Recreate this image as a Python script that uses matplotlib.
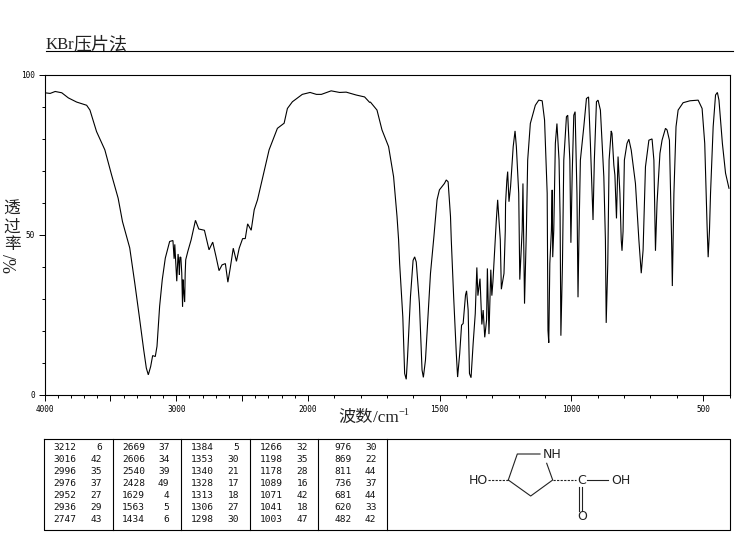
import matplotlib
matplotlib.use("Agg")
import matplotlib.pyplot as plt
import numpy as np
from matplotlib.ticker import FixedLocator, NullFormatter

# ---- spectrum, by region ----
wn_oh = [4000,3957,3919,3869,3819,3756,3680,3655,3605,3542,3491,3441,3408,3353,3315,3282,3247,3227,3212,3194,3179,3159,3146,3126,3106,3083,3050,3025]
t_oh = [94.3,94.1,94.7,94.3,92.7,91.4,90.4,88.9,82.2,76.5,68.7,61.4,54.1,45.9,35,25,14.1,8.4,6.3,8.9,12.3,12,15.2,27.7,36,42.7,47.9,48.2]
wn_ch = [3016,3011,2996,2986,2980,2976,2972,2965,2958,2952,2948,2944,2936,2932,2928,2912,2887,2854,2829,2786,2751,2723,2698,2675,2652,2627,2608,2590,2567,2543,2522,2496,2476,2458,2431,2408,2383,2345,2295,2232,2181,2156,2118,2043,1992,1968,1949,1912,1880,1855,1817,1785,1766]
t_ch = [42.5,47,35.5,44,41,37.5,43,43,38,27.5,36,33,29,38,42.2,44.8,48.4,54.5,51.8,51.4,45.3,47.7,43.2,38.8,40.6,41,35.2,39.6,45.8,41.7,45.8,48.8,48.8,53.4,51.4,57.8,60.9,67.6,76.5,83.2,84.8,89.4,91.5,93.8,94.4,93.8,93.8,94.9,94.4,94.5,93.6,93,91.3]
wn_amide = [1763,1738,1719,1694,1675,1662,1656,1652,1640,1633,1627,1622,1611,1601,1595,1589,1577,1567,1562,1554,1535,1522,1510,1501,1482,1475,1468,1459,1456,1447,1437,1432,1424,1417,1411,1402,1398,1392,1387,1381,1373,1365,1359,1355,1347,1340,1335,1329,1322,1319,1313,1309,1306,1302,1298]
t_amide = [91.4,88.9,82.7,77.5,68.1,55.7,48.4,41,24.4,6.7,4.9,11.9,30.6,42,43.1,41.5,28.6,7.8,5.5,10.9,37.9,49.4,60.9,64,66,67.1,66.5,55.7,48.3,30.6,13,5.6,13,21.8,22.3,31.2,32.5,26.5,6.7,5.4,16.1,25.4,39.8,31,36.3,22,26.5,18,23.4,39.5,19,30,39.1,31,35.3]
wn_fp1 = [1285,1280,1275,1270,1266,1256,1251,1250,1245,1242,1237,1231,1221,1214,1209,1200,1196,1187,1184,1181,1178,1171,1166,1156,1137,1124,1111,1102,1092,1089,1086,1082,1076,1073,1071,1067,1061,1055,1047,1043,1040,1034,1029,1019,1014,1006,1002,997,991,986,979,975,971,966]
t_fp1 = [54.6,60.9,54.6,48.4,33,37.9,51.4,59.8,67.1,69.7,60.3,65,77.5,82.4,77.5,62.9,36,51.4,66,48.4,28.5,51.4,73.3,84.7,90.4,92,91.8,85.8,62.9,20.2,16.3,41,51.4,64,43,51.4,78.5,84.7,73.3,55.7,18.5,41,73.3,86.8,87.3,73.3,47.5,69.2,87.3,88.4,62.9,30.5,51.4,73.3]
wn_fp2 = [953,943,935,928,918,913,905,899,890,877,871,868,862,857,849,846,839,835,829,823,816,811,808,804,799,789,782,773,757,744,735,728,719,706,694,687,681,675,664,656,643,637,628,620,617,611,603,595,576,550,519,504,494,485,481,476,472,462,453,446,440,427,415,402]
t_fp2 = [83.7,92.5,93,78.5,54.6,73.3,91.5,92,88.9,68.1,48.4,22.5,41,73.3,82.4,81.6,71.7,68.6,55.1,74.4,62.9,48.4,45,51,73.3,78.5,79.8,76.4,66,48.4,38,45.2,71.2,79.5,79.9,73.3,45,60,75.4,79.5,83.2,82.7,79.5,49.4,34,62.9,83.7,88.9,91.2,91.8,92,89.4,78.5,52.5,43,51.4,62.9,83.7,93.6,94.4,92,78.5,69.2,64.5]

# ---- peak table ----
peak_wn = [[3212,3016,2996,2976,2952,2936,2747],[2669,2606,2540,2428,1629,1563,1434],[1384,1353,1340,1328,1313,1306,1298],[1266,1198,1178,1089,1071,1041,1003],[976,869,811,736,681,620,482]]
peak_t = [[6,42,35,37,27,29,43],[37,34,39,49,4,5,6],[5,30,21,17,18,27,30],[32,35,28,16,42,18,47],[30,22,44,37,44,33,42]]
x_major = [4000,3000,2000,1500,1000,500]
x_mid = [3500,2500]
x_minor = [w for w in range(4000,399,-100) if w not in x_major and w not in x_mid]
y_major = [0,50,100]
y_minor = [10,20,30,40,60,70,80,90]

W, H = 737, 539
fig = plt.figure(figsize=(W/100, H/100), dpi=100)

# wavenumber axis: 2000 cm-1 and below is drawn at twice the scale of the range above
def fwd(w):
    w = np.asarray(w, float)
    return -np.where(w >= 2000, (4000-w)/2, 1000+(2000-w))
def inv(v):
    u = -np.asarray(v, float)
    return np.where(u <= 1000, 4000-2*u, 3000-u)

L, R, T, B = 44.5, 729.5, 74.5, 395.0
ax = fig.add_axes([L/W, 1-B/H, (R-L)/W, (B-T)/H])
ax.set_xscale('function', functions=(fwd, inv))
ax.plot(wn_oh+wn_ch+wn_amide+wn_fp1+wn_fp2, t_oh+t_ch+t_amide+t_fp1+t_fp2, color='black', lw=0.8, solid_joinstyle='miter')
ax.set_xlim(4000, 400)
ax.set_ylim(0, 100)
for s in ax.spines.values():
    s.set_linewidth(0.8)
ax.xaxis.set_major_locator(FixedLocator(x_major+x_mid))
ax.xaxis.set_minor_locator(FixedLocator(x_minor))
ax.set_xticklabels([str(v) for v in x_major]+['',''])
ax.xaxis.set_minor_formatter(NullFormatter())
ax.yaxis.set_major_locator(FixedLocator(y_major))
ax.yaxis.set_minor_locator(FixedLocator(y_minor))
ax.tick_params(axis='both', which='major', length=4, width=0.7, labelsize=5.6, pad=3)
ax.tick_params(axis='both', which='minor', length=2, width=0.7)
for lb in ax.get_xticklabels()+ax.get_yticklabels():
    lb.set_family('DejaVu Sans Mono')

# page overlay in pixel coordinates
pg = fig.add_axes([0, 0, 1, 1], facecolor='none')
pg.set_xlim(0, W); pg.set_ylim(H, 0); pg.axis('off')

cjk = ['Noto Sans CJK SC', 'DejaVu Sans']
pg.text(46, 49, 'KBr', family='Liberation Serif', fontsize=12, va='baseline', color='#222222')
pg.text(73, 49, '压片法', family=cjk, fontsize=13, va='baseline', color='#222222')
pg.plot([46, 733], [50.5, 50.5], color='black', lw=0.8)

for ch, y in zip('透过率', (209, 227, 245)):
    pg.text(12, y, ch, family=cjk, fontsize=12, ha='center', va='center', color='#222222')
pg.text(12, 263, '%/', family='Liberation Serif', fontsize=13, rotation=90, ha='center', va='center', color='#222222')

pg.text(338, 422, '波数', family=cjk, fontsize=12.4, va='baseline', color='#222222')
pg.text(373, 422, '/cm', family='Liberation Serif', fontsize=12.4, va='baseline', color='#222222')
pg.text(399, 415, '−1', family='Liberation Serif', fontsize=7.5, va='baseline', color='#222222')

# table frame
pg.plot([44.5, 730, 730, 44.5, 44.5], [438.5, 438.5, 530, 530, 438.5], color='black', lw=0.8)
for x in (113, 181.5, 250.5, 318.5, 387.5):
    pg.plot([x, x], [438.5, 530], color='black', lw=0.8)
rows = (447, 459.2, 471.3, 483.5, 495.7, 507.8, 520)
col_pos = ((76.7, 102), (145, 169.5), (214, 239), (283, 308), (352, 376.5))
for (xw, xt), ws, ts in zip(col_pos, peak_wn, peak_t):
    for y, a, b in zip(rows, ws, ts):
        pg.text(xw, y, str(a), family='DejaVu Sans Mono', fontsize=6.8, ha='right', va='center', color='#111111')
        pg.text(xt, y, str(b), family='DejaVu Sans Mono', fontsize=6.8, ha='right', va='center', color='#111111')

# structure
bond = dict(color='#222222', lw=0.8)
dash = dict(color='#222222', lw=0.8, ls=(0, (2, 1.2)))
pg.plot([488.3, 508.3], [480, 480], **dash)
pg.plot([508.3, 517.3, 540], [480, 454, 454], **bond)
pg.plot([546.7, 552.7, 530.7, 508.3], [463.3, 480, 496, 480], **bond)
pg.plot([552.7, 576], [480, 480], **dash)
pg.plot([586.7, 608.3], [480, 480], **bond)
pg.plot([578.8, 578.8], [487, 511], **bond)
pg.plot([581.6, 581.6], [487, 511], **bond)
for s, x, y in (('HO', 478.3, 480), ('OH', 621, 480), ('NH', 551.7, 454), ('C', 581.7, 480), ('O', 581.7, 517)):
    pg.text(x, y, s, family='DejaVu Sans', fontsize=9, ha='center', va='center', color='#222222')

fig.savefig('out.png', dpi=100)
